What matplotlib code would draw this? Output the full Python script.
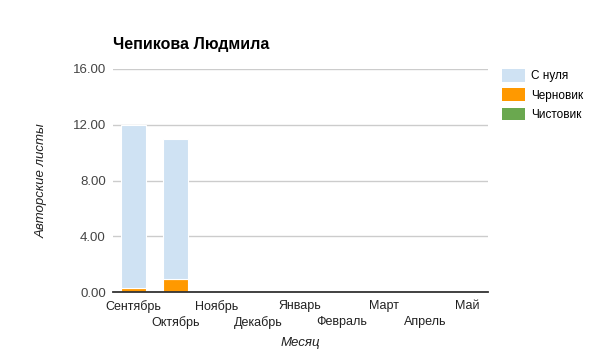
import matplotlib
matplotlib.use("Agg")
import matplotlib.pyplot as plt
import numpy as np

plt.rcParams["font.family"] = ["Liberation Sans", "DejaVu Sans"]

months = ["Сентябрь", "Октябрь", "Ноябрь", "Декабрь", "Январь", "Февраль", "Март", "Апрель", "Май"]
draft = [0.3, 0.9, 0, 0, 0, 0, 0, 0, 0]
clean = [0, 0, 0, 0, 0, 0, 0, 0, 0]
scratch = [11.7, 10.1, 0, 0, 0, 0, 0, 0, 0]
series = ["С нуля", "Черновик", "Чистовик"]
colors = {"С нуля": "#cfe2f3", "Черновик": "#ff9900", "Чистовик": "#6aa84f"}

fig = plt.figure(figsize=(6, 3.61), dpi=100)
ax = fig.add_axes([0.188, 0.191, 0.625, 0.618])
x = np.arange(len(months))
w = 0.6
b_draft = ax.bar(x, draft, w, color=colors["Черновик"], edgecolor="white", lw=0.8, zorder=3)
b_clean = ax.bar(x, clean, w, bottom=draft, color=colors["Чистовик"], lw=0, zorder=3)
bottom2 = np.array(draft) + np.array(clean)
b_scr = ax.bar(x, scratch, w, bottom=bottom2, color=colors["С нуля"], edgecolor="white", lw=0.8, zorder=3)

ax.set_xlim(-0.5, len(months) - 0.5)
ax.set_ylim(0, 16)
ax.set_yticks([0, 4, 8, 12, 16])
ax.set_yticklabels([f"{v:.2f}" for v in [0, 4, 8, 12, 16]], fontsize=9.5, color="#444")
ax.yaxis.grid(True, color="#cccccc", lw=1, zorder=0)

# alternate month labels on two rows: even on major ticks, odd on minor ticks
ax.set_xticks(x[::2])
ax.set_xticklabels(months[::2], fontsize=9, color="#222")
ax.set_xticks(x[1::2], minor=True)
ax.set_xticklabels(months[1::2], minor=True, fontsize=9, color="#222")
ax.tick_params(axis="x", which="major", length=0, pad=6)
ax.tick_params(axis="x", which="minor", length=0, pad=17)
ax.tick_params(axis="y", length=0, pad=5)
for sp in ("top", "right", "left"):
    ax.spines[sp].set_visible(False)
ax.spines["bottom"].set_color("#333")
ax.spines["bottom"].set_linewidth(1.3)
ax.spines["bottom"].set_zorder(4)

ax.set_xlabel("Месяц", fontsize=9.5, style="italic", color="#222", labelpad=6)
ax.set_ylabel("Авторские листы", fontsize=9.5, style="italic", color="#222", labelpad=18)
fig.text(0.188, 0.878, "Чепикова Людмила", fontsize=11.5, fontweight="bold", ha="left", va="center")

handles = [b_scr, b_draft, b_clean]
leg = fig.legend(handles, series, loc="upper left", bbox_to_anchor=(0.828, 0.822),
                 frameon=False, fontsize=8.5, handlelength=2.0, handleheight=1.3,
                 labelspacing=0.5, handletextpad=0.5, borderaxespad=0)
for h in leg.legend_handles:
    h.set_edgecolor("none")

fig.savefig("out.png", dpi=100)
